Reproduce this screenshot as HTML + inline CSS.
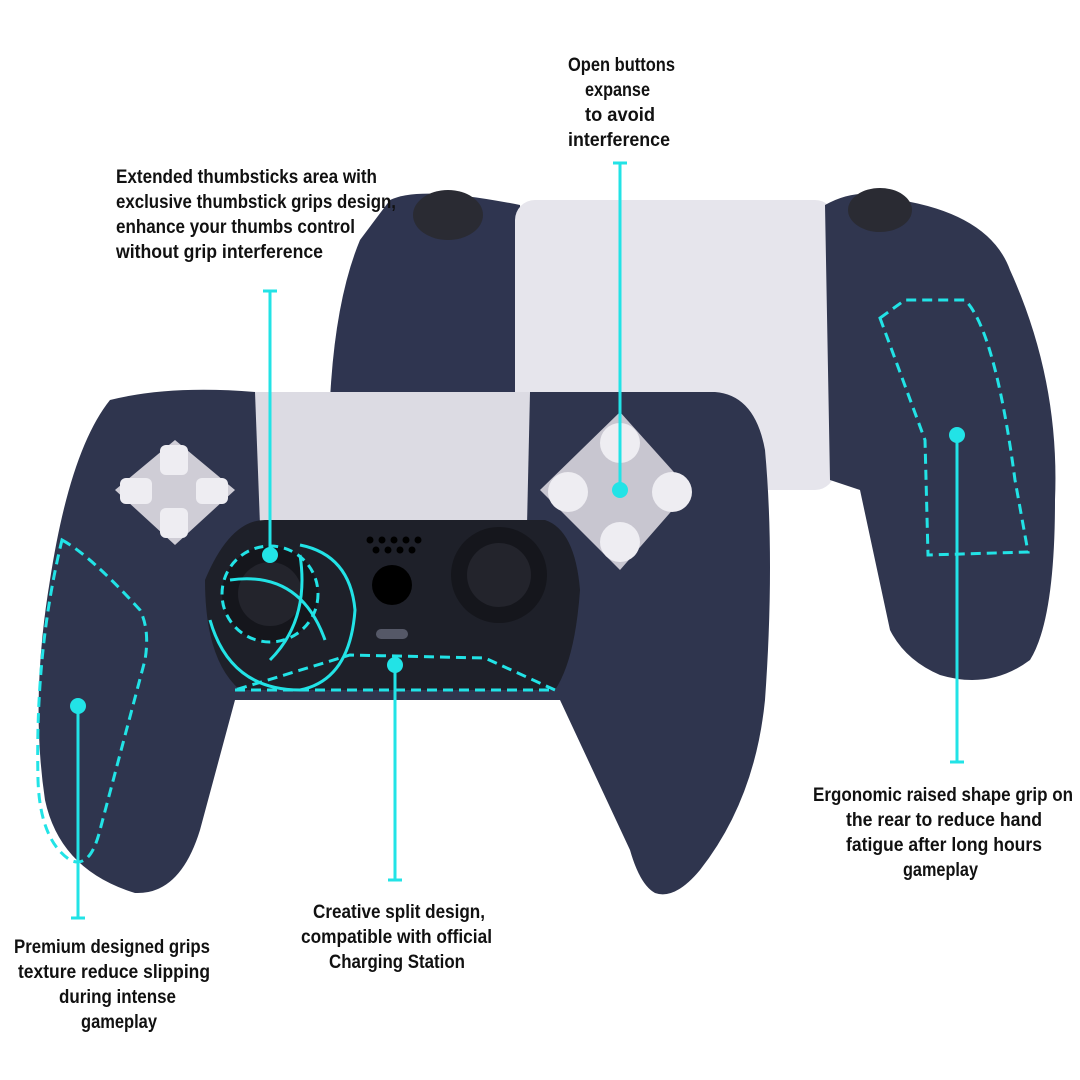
<!DOCTYPE html>
<html><head><meta charset="utf-8"><style>
html,body{margin:0;padding:0;background:#fff;}
svg{display:block}
text{font-family:"Liberation Sans",sans-serif;font-weight:bold;font-size:19px;fill:#111;}
</style></head><body>
<svg width="1080" height="1080" viewBox="0 0 1080 1080">
<!-- back controller -->
<path d="M390,200 Q420,185 520,205 L530,400 L330,400 Q335,300 360,240 Z" fill="#2f3550"/>
<rect x="515" y="200" width="320" height="290" rx="20" fill="#e6e5ec"/>
<path d="M825,205 Q860,185 900,200 Q990,215 1010,270 Q1060,380 1055,500 Q1055,620 1030,660 Q990,690 940,675 Q905,660 890,630 L860,490 L830,480 Z" fill="#30364f"/>
<circle cx="725" cy="422" r="3" fill="#222"/>
<ellipse cx="448" cy="215" rx="35" ry="25" fill="#2a2b33"/>
<ellipse cx="880" cy="210" rx="32" ry="22" fill="#2a2b33"/>
<!-- front controller -->
<path d="M110,400 Q170,385 255,392 L715,392 Q755,395 765,450 Q775,560 765,700 Q755,800 700,870 Q675,900 655,893 Q640,885 630,850 L560,700 L235,700 L200,830 Q180,895 135,893 Q60,870 45,800 Q30,700 50,580 Q70,450 110,400 Z" fill="#2f354e"/>
<path d="M255,392 L530,392 L527,525 L260,525 Z" fill="#dcdbe3"/>
<path d="M205,580 Q230,520 265,520 L545,520 Q575,530 580,590 Q575,660 555,690 L240,690 Q205,660 205,580 Z" fill="#1e2029"/>
<!-- dpad -->
<path d="M175,440 L235,490 L175,545 L115,490 Z" fill="#cfcdd6"/>
<rect x="160" y="445" width="28" height="30" rx="6" fill="#eeedf2"/><rect x="160" y="508" width="28" height="30" rx="6" fill="#eeedf2"/>
<rect x="120" y="478" width="32" height="26" rx="6" fill="#eeedf2"/><rect x="196" y="478" width="32" height="26" rx="6" fill="#eeedf2"/>
<!-- face buttons -->
<path d="M620,412 L690,490 L620,570 L540,490 Z" fill="#c8c6d0"/>
<circle cx="620" cy="443" r="20" fill="#eeedf2"/><circle cx="568" cy="492" r="20" fill="#eeedf2"/><circle cx="672" cy="492" r="20" fill="#eeedf2"/><circle cx="620" cy="542" r="20" fill="#eeedf2"/>
<!-- sticks -->
<circle cx="270" cy="594" r="48" fill="#15161c"/><circle cx="270" cy="594" r="32" fill="#23242c"/>
<circle cx="499" cy="575" r="48" fill="#15161c"/><circle cx="499" cy="575" r="32" fill="#23242c"/>
<g fill="#000"><circle cx="370" cy="540" r="3.5"/><circle cx="382" cy="540" r="3.5"/><circle cx="394" cy="540" r="3.5"/><circle cx="406" cy="540" r="3.5"/><circle cx="418" cy="540" r="3.5"/><circle cx="376" cy="550" r="3.5"/><circle cx="388" cy="550" r="3.5"/><circle cx="400" cy="550" r="3.5"/><circle cx="412" cy="550" r="3.5"/></g>
<circle cx="392" cy="585" r="20" fill="#000"/>
<rect x="376" y="629" width="32" height="10" rx="5" fill="#555867"/>
<!-- cyan annotations -->
<g stroke="#22e3e6" stroke-width="3" fill="none">
<line x1="270" y1="291" x2="270" y2="555"/><line x1="263" y1="291" x2="277" y2="291"/>
<circle cx="270" cy="594" r="48" stroke-dasharray="9 6"/>
<path d="M210,620 Q230,690 300,690 Q350,680 355,610 Q350,555 300,545"/>
<path d="M230,580 Q300,570 325,640 M270,660 Q310,620 300,555"/>
<line x1="620" y1="163" x2="620" y2="490"/><line x1="613" y1="163" x2="627" y2="163"/>
<line x1="395" y1="665" x2="395" y2="880"/><line x1="388" y1="880" x2="402" y2="880"/>
<path d="M235,690 L555,690 L485,658 L350,655 Z" stroke-dasharray="10 6"/>
<line x1="78" y1="706" x2="78" y2="918"/><line x1="71" y1="918" x2="85" y2="918"/>
<path d="M62,540 Q90,555 140,610 Q150,630 145,660 L100,830 Q90,870 70,860 Q40,840 38,780 Q35,650 62,540 Z" stroke-dasharray="10 6"/>
<line x1="957" y1="435" x2="957" y2="762"/><line x1="950" y1="762" x2="964" y2="762"/>
<path d="M880,318 L905,300 L965,300 Q995,330 1015,480 L1028,552 L928,555 L925,440 Z" stroke-dasharray="10 6"/>
</g>
<g fill="#22e3e6"><circle cx="270" cy="555" r="8"/><circle cx="620" cy="490" r="8"/><circle cx="395" cy="665" r="8"/><circle cx="78" cy="706" r="8"/><circle cx="957" cy="435" r="8"/></g>
<!-- texts -->
<g lengthAdjust="spacingAndGlyphs">
<text x="568" y="71" textLength="107" lengthAdjust="spacingAndGlyphs">Open buttons</text>
<text x="585" y="96" textLength="65" lengthAdjust="spacingAndGlyphs">expanse</text>
<text x="585" y="121" textLength="70" lengthAdjust="spacingAndGlyphs">to avoid</text>
<text x="568" y="146" textLength="102" lengthAdjust="spacingAndGlyphs">interference</text>
<text x="313" y="918" textLength="172" lengthAdjust="spacingAndGlyphs">Creative split design,</text>
<text x="301" y="943" textLength="191" lengthAdjust="spacingAndGlyphs">compatible with official</text>
<text x="329" y="968" textLength="136" lengthAdjust="spacingAndGlyphs">Charging Station</text>
<text x="14" y="953" textLength="196" lengthAdjust="spacingAndGlyphs">Premium designed grips</text>
<text x="18" y="978" textLength="192" lengthAdjust="spacingAndGlyphs">texture reduce slipping</text>
<text x="59" y="1003" textLength="117" lengthAdjust="spacingAndGlyphs">during intense</text>
<text x="81" y="1028" textLength="76" lengthAdjust="spacingAndGlyphs">gameplay</text>
<text x="813" y="801" textLength="260" lengthAdjust="spacingAndGlyphs">Ergonomic raised shape grip on</text>
<text x="846" y="826" textLength="196" lengthAdjust="spacingAndGlyphs">the rear to reduce hand</text>
<text x="846" y="851" textLength="196" lengthAdjust="spacingAndGlyphs">fatigue after long hours</text>
<text x="903" y="876" textLength="75" lengthAdjust="spacingAndGlyphs">gameplay</text>
<text x="116" y="183" textLength="261" lengthAdjust="spacingAndGlyphs">Extended thumbsticks area with</text>
<text x="116" y="208" textLength="280" lengthAdjust="spacingAndGlyphs">exclusive thumbstick grips design,</text>
<text x="116" y="233" textLength="239" lengthAdjust="spacingAndGlyphs">enhance your thumbs control</text>
<text x="116" y="258" textLength="207" lengthAdjust="spacingAndGlyphs">without grip interference</text>
</g>
</svg>
</body></html>
